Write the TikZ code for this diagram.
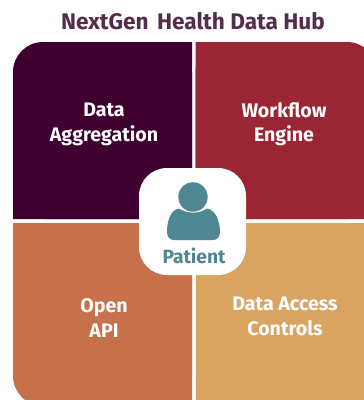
\documentclass[tikz,border=0pt]{standalone}
\usepackage{fontspec}
\setmainfont{Fira Sans}
\definecolor{plum}{HTML}{3F0030}
\definecolor{wine}{HTML}{9C2534}
\definecolor{terra}{HTML}{C6714C}
\definecolor{sand}{HTML}{D8A460}
\definecolor{teal}{HTML}{4F8792}
\definecolor{titlec}{HTML}{552C4B}
\tikzset{
  lab/.style={text=white,font=\fontsize{19.6}{24.5}\selectfont\bfseries,align=center},
  titlelab/.style={text=titlec,font=\fontsize{22.6}{26}\selectfont\bfseries},
  patlab/.style={text=teal,font=\fontsize{19.2}{22}\selectfont\bfseries},
}
\begin{document}
\begin{tikzpicture}[x=1pt,y=-1pt]
\useasboundingbox (0,0) rectangle (364,400);
\begin{scope}
\clip (0,0) rectangle (364,400);
\fill[plum,rounded corners=30pt] (192,42) -- (13,42) -- (13,219) -- (192,219) -- cycle;
\fill[plum] (150,42) rectangle (192,219) (13,190) rectangle (192,219);
\fill[wine,rounded corners=30pt] (195.500,42) rectangle (377,219);
\fill[wine] (195.500,42) rectangle (240,219) (195.500,190) rectangle (377,219);
\fill[terra,rounded corners=30pt] (13,223) rectangle (192,406);
\fill[terra] (100,223) rectangle (192,406) (13,223) rectangle (192,260);
\fill[sand] (195.500,223) rectangle (364,400);
\fill[white,rounded corners=28pt] (139,168) rectangle (246,275);
\end{scope}
\fill[teal] (193,197) circle (14.7);
\fill[teal] (167,232) .. controls (167,222) and (170,210) .. (179,208.5)
  .. controls (187,214) and (199,214) .. (207,208.5)
  .. controls (216,210) and (220,222) .. (220,232)
  .. controls (220,237) and (217,240) .. (213,240)
  -- (174,240) .. controls (170,240) and (167,237) .. (167,232) -- cycle;
\node[titlelab] (title) at (193,21) {NextGen\hspace{3pt} Health Data Hub};
\node[lab] (agg) at (104,124.500) {Data\\Aggregation};
\node[lab] (wf) at (284,124) {Workflow\\Engine};
\node[lab] (api) at (104,318) {Open\\API};
\node[lab] (dac) at (285,316.500) {Data Access\\Controls};
\node[patlab] (pat) at (194,255.500) {Patient};
\end{tikzpicture}
\end{document}
